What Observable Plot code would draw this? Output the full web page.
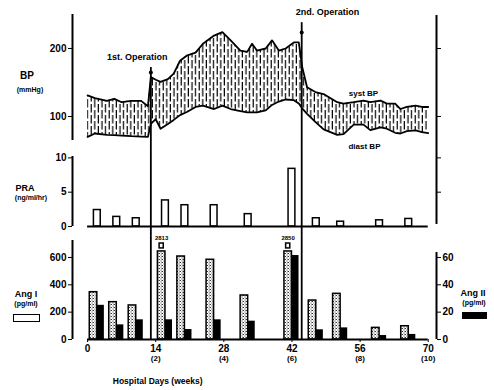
<!DOCTYPE html>
<html><head><meta charset="utf-8">
<script src="https://cdn.jsdelivr.net/npm/d3@7"></script>
<script src="https://cdn.jsdelivr.net/npm/@observablehq/plot@0.6"></script>
<style>
body{margin:0;background:#fff;}
#chart{position:relative;width:494px;height:390px;font-family:"Liberation Sans",Arial,sans-serif;font-weight:bold;color:#000;}
#chart svg{position:absolute;left:0;overflow:visible;}
.lab{position:absolute;white-space:nowrap;line-height:1;transform:translate(-50%,-50%);}
.sw{position:absolute;box-sizing:border-box;border:1.5px solid #000;}
</style></head><body><div id="chart"></div>
<script>
// ---- data ----
const bpDays    = [0,1.5,4,5.5,7,9,11,12.4,13,14,15,16.5,17.7,19,20.5,22.2,23.7,26,27.7,29.4,31.4,32.8,33.8,34.8,36.6,37.9,39.3,40.7,42.4,43.4,44.1,45.1,46.8,48.5,51.3,52.6,54.7,56.7,58.1,60.2,61.5,63.2,64.3,65.6,67.4,68.7,70];
const systolic  = [131,127,123,126,121,123,123,115,158,154,151,155,163,182,190,194,207,219,224,212,197,195,207,197,200,212,197,200,209,209,173,143,136,133,121,119,121,123.5,121,123.5,119,119,111,114,116,114,114];
const diastolic = [70,75,73,72.5,72,71,70.5,70,89,96,82,89,95,102,107,114,116,111,116,111,108,106,106,106,109,117,122,125,124,119,112,104,92,81,73,74,88,88,80,84,82,76,75,78.5,79.5,77,75.5];

const sampleDays = [2,6,10,16,20,26,33,42,47,52,60,66];
const pra   = [2.4,1.4,1.2,3.8,3.1,3.1,1.8,8.4,1.2,0.7,0.9,1.1];      // ng/ml/hr
const angI  = [346,273,249,2813,607,583,322,2850,285,334,85,97];    // pg/ml
const angII = [25,10.7,14.4,14.4,7.3,14.4,13.4,61.4,7.1,8.5,2.9,3.7]; // pg/ml

const operationDays  = [13, 44];
const operationNames = ["1st. Operation", "2nd. Operation"];

const xTicks     = [0,14,28,42,56,70];
const weekLabels = ["", "(2)", "(4)", "(6)", "(8)", "(10)"];
const bpTicks    = [100,200];
const praTicks   = [0,5,10];
const angITicks  = [0,200,400,600];

// ---- build tables ----
const bp = bpDays.map((d,i)=>({day:d, sys:systolic[i], dia:diastolic[i]}));
const samples = sampleDays.map((d,i)=>({day:d, pra:pra[i], angI:angI[i], angII:angII[i]}));
const BREAK = 644;
const broken = samples.filter(d=>d.angI>BREAK);

// annotation placement (data units)
const ops = operationDays.map((d,i)=>({day:d, name:operationNames[i],
  top:[172,238][i], mark:[164.7,223.5][i], lx:[10.2,49.3][i], ly:[186.8,253][i]}));

const XD = [-3.1, 71.7];
const font = {fontFamily:"Liberation Sans, Arial, sans-serif", fontWeight:"bold", fontSize:"10px", overflow:"visible", background:"transparent"};
const common = {width:494, marginLeft:72, marginRight:58, style:font};

function addDefs(svg, html){
  const ns="http://www.w3.org/2000/svg";
  const defs=document.createElementNS(ns,"defs");
  defs.innerHTML=html;
  svg.insertBefore(defs, svg.firstChild);
}

// ---- Panel A : blood pressure ----
const A = Plot.plot({
  ...common, height:150, marginTop:14, marginBottom:10,
  x:{domain:XD, axis:null},
  y:{domain:[64.7,250], label:null},
  marks:[
    Plot.areaY(bp,{x:"day", y1:"dia", y2:"sys", fill:"url(#hatchBP)"}),
    Plot.line(bp,{x:"day", y:"sys", stroke:"black", strokeWidth:1.8}),
    Plot.line(bp,{x:"day", y:"dia", stroke:"black", strokeWidth:1.8}),
    Plot.ruleX([XD[0]],{y1:64.7, y2:250, strokeWidth:2}),
    Plot.axisY({ticks:bpTicks, tickSize:4, tickPadding:2, label:null}),
    Plot.ruleX([XD[1]],{y1:50, y2:248.5, strokeWidth:2}),
    Plot.axisY({anchor:"right", ticks:bpTicks, tickSize:4, tickFormat:()=>"", label:null}),
    Plot.ruleX(ops,{x:"day", y1:"top", y2:50, strokeWidth:1.8}),
    Plot.dot(ops,{x:"day", y:"mark", r:2, fill:"black"}),
    Plot.text(ops,{x:"lx", y:"ly", text:"name", fontSize:9}),
    Plot.text(["syst BP"],{x:56.7, y:133.8, text:d=>d, fontSize:8}),
    Plot.text(["diast BP"],{x:56.9, y:55.9, text:d=>d, fontSize:8})
  ]
});
addDefs(A, `<pattern id="hatchBP" width="7.2" height="11" patternUnits="userSpaceOnUse">
  <rect width="7.2" height="11" fill="white"/>
  <line x1="1.2" x2="1.2" y1="0" y2="8.5" stroke="black" stroke-width="1.2"/>
  <line x1="4.8" x2="4.8" y1="5" y2="11" stroke="black" stroke-width="1.2"/>
  <line x1="4.8" x2="4.8" y1="0" y2="2.5" stroke="black" stroke-width="1.2"/>
</pattern>`);

// ---- Panel B : PRA ----
const B = Plot.plot({
  ...common, height:85, marginTop:6, marginBottom:9,
  x:{domain:XD, axis:null},
  y:{domain:[0,10.2], label:null},
  marks:[
    Plot.ruleX([XD[0]],{y1:0, y2:10.2, strokeWidth:2}),
    Plot.axisY({ticks:praTicks, tickSize:4, tickPadding:2, label:null}),
    Plot.ruleX([XD[1]],{y1:0.3, y2:11.07, strokeWidth:2}),
    Plot.axisY({anchor:"right", ticks:[5,10], tickSize:4, tickFormat:()=>"", label:null}),
    Plot.rect(samples,{x1:d=>d.day-0.7, x2:d=>d.day+0.7, y1:0, y2:"pra", fill:"white", stroke:"black", strokeWidth:1.5}),
    Plot.ruleY([0],{x1:0, x2:70, strokeWidth:2}),
    Plot.ruleX(ops,{x:"day", y1:-1.32, y2:11.07, strokeWidth:1.8})
  ]
});

// ---- Panel C : Ang I / Ang II ----
const C = Plot.plot({
  ...common, height:155, marginTop:5, marginBottom:51,
  x:{domain:XD, axis:null},
  y:{domain:[0,724], label:null},
  marks:[
    Plot.ruleX([XD[0]],{y1:0, y2:724, strokeWidth:2}),
    Plot.axisY({ticks:angITicks, tickSize:4, tickPadding:2, label:null}),
    Plot.ruleX([XD[1]],{y1:0, y2:636, strokeWidth:2}),
    Plot.axisY({anchor:"right", ticks:angITicks, tickSize:4, tickPadding:2, tickFormat:d=>d/10, label:null}),
    Plot.rect(samples,{x1:d=>d.day-1.55, x2:d=>d.day, y1:0, y2:d=>Math.min(d.angI,BREAK), fill:"url(#stipAng)", stroke:"black", strokeWidth:1.5}),
    Plot.rect(samples,{x1:d=>d.day, x2:d=>d.day+1.45, y1:0, y2:d=>d.angII*10, fill:"black"}),
    Plot.rect(broken,{x1:d=>d.day-1.2, x2:d=>d.day-0.35, y1:666, y2:702, fill:"white", stroke:"black", strokeWidth:1.5}),
    Plot.text(broken,{x:d=>d.day-0.8, y:742, text:d=>String(d.angI), fontSize:6}),
    Plot.ruleY([0],{x1:0, x2:70, strokeWidth:2}),
    Plot.ruleX(ops,{x:"day", y1:0, y2:760, strokeWidth:1.8}),
    Plot.axisX({ticks:xTicks, tickSize:3, tickPadding:2, label:null, fontSize:10}),
    Plot.axisX({ticks:xTicks.slice(1), tickSize:0, tickPadding:16, label:null, fontSize:8,
      tickFormat:d=>weekLabels[xTicks.indexOf(d)]}),
    Plot.text(["Hospital Days (weeks)"],{x:14.4, y:-307, text:d=>d, fontSize:8.5})
  ]
});
addDefs(C, `<pattern id="stipAng" width="3" height="3" patternUnits="userSpaceOnUse">
  <rect width="3" height="3" fill="white"/>
  <rect x="0" y="0" width="1" height="1" fill="#333"/>
  <rect x="1.5" y="1.5" width="1" height="1" fill="#333"/>
  <rect x="2" y="0" width="0.8" height="0.8" fill="#666"/>
</pattern>`);

const chart = document.getElementById("chart");
A.style.top="0px"; B.style.top="150px"; C.style.top="235px";
chart.append(A,B,C);

// side labels and legends
function lab(txt,x,y,size){const e=document.createElement("div");e.className="lab";e.textContent=txt;e.style.left=x+"px";e.style.top=y+"px";e.style.fontSize=size+"px";chart.append(e);}
function sw(x,y,w,h,bg){const e=document.createElement("div");e.className="sw";Object.assign(e.style,{left:x+"px",top:y+"px",width:w+"px",height:h+"px",background:bg});chart.append(e);}
lab("BP",27,76,10); lab("(mmHg)",30,89,7);
lab("PRA",25,188,9); lab("(ng/ml/hr)",31,197,7);
lab("Ang I",26,294,9); lab("(pg/ml)",26,303,7); sw(13,314,27,8,"white");
lab("Ang II",473,293,9); lab("(pg/ml)",474,302,7); sw(462,312,25,7,"black");
</script></body></html>
